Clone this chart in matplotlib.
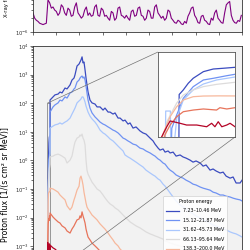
import numpy as np
import matplotlib
matplotlib.use("Agg")
import matplotlib.pyplot as plt
from matplotlib.ticker import LogLocator, NullFormatter
from mpl_toolkits.axes_grid1.inset_locator import mark_inset

# ---------------- data ----------------
# time in hours from start of window (9 days)
t_hours = [17.6, 20.7, 22.7, 25.9, 27.9, 30.0, 33.1, 35.2, 38.3, 40.3,
           42.4, 43.4, 45.5, 47.6, 48.6, 49.6, 50.7, 51.7, 52.7, 53.8,
           54.8, 55.8, 56.9, 58.9, 61.0, 64.1, 66.2, 69.3, 72.4, 74.4,
           77.6, 79.6, 82.7, 84.8, 87.9, 90.0, 93.1, 95.1, 98.2, 100.3,
           103.4, 106.5, 110.6, 113.7, 116.8, 121.0, 124.1, 126.1, 129.3, 131.3,
           134.4, 136.5, 139.6, 141.7, 144.8, 147.9, 152.0, 155.1, 158.2, 162.3,
           165.4, 168.5, 172.7, 175.8, 178.9, 183.0, 186.1, 189.2, 193.4, 196.5,
           199.6, 203.7, 206.8, 209.9, 214.0, 216.1]

# log10 proton flux per channel
p1_log = [2.11, 2.22, 2.29, 2.32, 2.39, 2.36, 2.53, 2.50, 2.64, 2.81,
          2.88, 2.99, 3.30, 3.37, 3.44, 3.51, 3.62, 3.41, 3.44, 3.16,
          2.88, 2.64, 2.39, 2.11, 2.01, 1.97, 1.87, 1.87, 1.76, 1.83,
          1.69, 1.69, 1.62, 1.66, 1.48, 1.48, 1.38, 1.41, 1.27, 1.31,
          1.13, 1.17, 1.03, 0.96, 0.92, 0.78, 0.68, 0.57, 0.43, 0.36,
          0.40, 0.29, 0.33, 0.26, 0.29, 0.15, 0.19, 0.12, 0.08, 0.01,
          -0.06, -0.02, -0.09, -0.20, -0.16, -0.34, -0.30, -0.37, -0.44, -0.41,
          -0.55, -0.62, -0.58, -0.79, -0.79, -0.69]
p2_log = [1.69, 1.87, 1.94, 2.01, 2.11, 2.08, 2.22, 2.18, 2.36, 2.39,
          2.50, 2.53, 2.74, 2.81, 2.88, 2.92, 2.95, 2.88, 2.92, 2.81,
          2.60, 2.36, 2.11, 1.83, 1.66, 1.52, 1.45, 1.34, 1.27, 1.24,
          1.17, 1.13, 1.06, 1.03, 0.96, 0.89, 0.78, 0.75, 0.68, 0.64,
          0.57, 0.54, 0.43, 0.40, 0.33, 0.26, 0.19, 0.15, 0.05, 0.01,
          -0.09, -0.13, -0.27, -0.34, -0.41, -0.51, -0.58, -0.62, -0.69, -0.76,
          -0.83, -0.86, -0.93, -0.97, -1.00, -1.04, -1.11, -1.14, -1.21, -1.21,
          -1.25, -1.28, -1.32, -1.35, -1.38, -1.42]
p3_log = [1.13, 1.20, 1.24, 1.27, 1.31, 1.27, 1.34, 1.38, 1.48, 1.62,
          1.76, 1.83, 2.01, 2.08, 2.11, 2.15, 2.22, 2.22, 2.15, 2.04,
          1.90, 1.80, 1.69, 1.55, 1.45, 1.34, 1.24, 1.06, 0.96, 0.92,
          0.82, 0.75, 0.68, 0.61, 0.50, 0.43, 0.33, 0.19, 0.12, 0.08,
          0.01, -0.06, -0.16, -0.23, -0.34, -0.44, -0.51, -0.55, -0.65, -0.69,
          -0.83, -0.90, -1.04, -1.14, -1.28, -1.42, -1.56, -1.63, -1.70, -1.80,
          -1.87, -1.94, -2.01, -2.08, -2.12, -2.19, -2.26, -2.29, -2.36, -2.40,
          -2.43, -2.50, -2.54, -2.57, -2.64, -2.68]
p4_log = [0.12, 0.15, 0.19, 0.22, 0.19, 0.15, 0.08, -0.09, 0.01, 0.15,
          0.50, 0.64, 0.78, 0.82, 0.89, 0.85, 0.92, 0.78, 0.71, 0.54,
          0.01, -0.34, -0.48, -0.62, -0.76, -0.90, -1.00, -1.07, -1.21, -1.31,
          -1.45, -1.52, -1.59, -1.66, -1.73, -1.80, -1.91, -1.98, -2.08, -2.15,
          -2.22, -2.29, -2.36, -2.43, -2.50, -2.57, -2.61, -2.64, -2.68, -2.71,
          -2.75, -2.82, -2.85, -2.89, -2.92, -2.96, -2.99, -3.03, -3.06, -3.10,
          -3.13, -3.17, -3.20, -3.24, -3.24, -3.27, -3.31, -3.34, -3.38, -3.38,
          -3.41, -3.45, -3.45, -3.48, -3.52, -3.52]
p5_log = [-0.97, -1.00, -1.04, -1.11, -1.21, -1.28, -1.38, -1.59, -1.73, -1.63,
          -1.38, -1.28, -1.04, -0.90, -0.62, -0.55, -0.69, -0.86, -1.11, -1.31,
          -1.49, -1.63, -1.70, -1.80, -1.91, -2.01, -2.08, -2.22, -2.33, -2.40,
          -2.54, -2.64, -2.78, -2.89, -2.99, -3.10, -3.20, -3.27, -3.38, -3.45,
          -3.52, -3.59, -3.69, -3.76, -3.83, -3.90, -3.97, -4.01, -4.08, -4.11,
          -4.18, -4.22, -4.29, -4.32, -4.36, -4.43, -4.46, -4.50, -4.53, -4.60,
          -4.64, -4.67, -4.71, -4.74, -4.78, -4.81, -4.85, -4.88, -4.92, -4.95,
          -4.95, -4.99, -5.02, -5.02, -5.06, -5.06]
p6_log = [-1.84, -1.98, -2.05, -2.15, -2.19, -2.29, -2.36, -2.47, -2.54, -2.40,
          -2.29, -2.22, -2.08, -2.05, -1.94, -2.01, -1.80, -1.94, -2.05, -2.19,
          -2.40, -2.54, -2.68, -2.78, -2.89, -2.99, -3.06, -3.17, -3.27, -3.34,
          -3.45, -3.52, -3.62, -3.69, -3.76, -3.83, -3.94, -4.01, -4.11, -4.18,
          -4.25, -4.32, -4.43, -4.50, -4.57, -4.64, -4.71, -4.74, -4.81, -4.85,
          -4.92, -4.95, -5.02, -5.06, -5.09, -5.16, -5.20, -5.23, -5.27, -5.34,
          -5.37, -5.41, -5.44, -5.48, -5.51, -5.55, -5.58, -5.62, -5.65, -5.69,
          -5.69, -5.72, -5.76, -5.76, -5.79, -5.79]
p7_log = [-2.96, -3.06, -3.10, -3.20, -3.27, -3.34, -3.41, -3.48, -3.55, -3.48,
          -3.41, -3.38, -3.31, -3.27, -3.20, -3.24, -3.17, -3.24, -3.34, -3.45,
          -3.59, -3.73, -3.83, -3.94, -4.04, -4.15, -4.22, -4.32, -4.43, -4.50,
          -4.60, -4.67, -4.78, -4.85, -4.92, -4.99, -5.09, -5.16, -5.27, -5.34,
          -5.41, -5.48, -5.58, -5.65, -5.72, -5.79, -5.86, -5.90, -5.97, -6.00,
          -6.03, -6.06, -6.09, -6.12, -6.15, -6.18, -6.20, -6.22, -6.24, -6.26,
          -6.28, -6.30, -6.32, -6.34, -6.36, -6.38, -6.40, -6.42, -6.44, -6.46,
          -6.48, -6.50, -6.52, -6.54, -6.56, -6.58]

# onset detail (shown in the inset): time [h], flux
on1_t = [15.56, 15.57, 15.72, 15.90, 16.08, 16.45, 16.81, 17.17, 17.60]
on1_f = [5e-5, 0.1, 0.21, 0.62, 1.4, 4.1, 6.3, 7.1, 8.3]
on2_t = [15.29, 15.30, 15.48, 15.60, 15.72, 16.08, 16.45, 16.81, 17.30, 17.60]
on2_f = [5e-5, 4.1e-4, 3.6e-3, 0.0138, 0.054, 0.356, 1.06, 1.39, 2.12, 2.67]
on3_t = [15.07, 15.08, 15.25, 15.26, 15.40, 15.48, 15.72, 16.08, 16.45, 16.93, 17.60]
on3_f = [5e-5, 6.8e-3, 6.8e-3, 5e-5, 5e-5, 2.0e-3, 0.041, 0.21, 0.55, 1.06, 1.72]
on4_t = [15.03, 15.12, 15.48, 15.72, 16.08, 16.45, 16.93, 17.60]
on4_f = [5e-5, 1.2e-3, 0.025, 0.092, 0.21, 0.36, 0.52, 0.73]
on5_t = [14.95, 14.99, 15.24, 15.48, 15.72, 16.08, 16.45, 17.00, 17.60]
on5_f = [5e-5, 1.8e-4, 2.7e-3, 0.0138, 0.041, 0.070, 0.078, 0.080, 0.079]
on6_t = [15.03, 15.05, 15.24, 15.48, 15.72, 16.08, 16.45, 16.93, 17.05, 17.30, 17.60]
on6_f = [5e-5, 1.4e-4, 7.0e-4, 2.7e-3, 6.1e-3, 8.0e-3, 9.5e-3, 8.0e-3, 0.0117, 9.5e-3, 0.0117]
on7_t = [14.92, 14.93, 15.12, 15.24, 15.36, 15.60, 15.84, 16.21, 16.57, 16.75,
         16.87, 16.99, 17.12, 17.30, 17.42, 17.60]
on7_f = [5e-5, 1.0e-4, 5.3e-4, 1.35e-3, 1.2e-3, 9.3e-4, 7.0e-4, 7.0e-4, 5.3e-4, 9.3e-4,
         5.3e-4, 1.2e-3, 5.3e-4, 7.0e-4, 9.3e-4, 5.3e-4]

energy_labels = ["7.23–10.46 MeV", "15.12–21.87 MeV", "31.62–45.73 MeV",
                 "66.13–95.64 MeV", "138.3–200.0 MeV", "289.2–418.3 MeV",
                 "604.7–874.6 MeV"]

# X-ray flux, units of 1e-6 W/m^2, regular sampling over the window
xray_t_hours = np.linspace(0, 215.3, 126)
xray_flux_e6 = [2.6, 2.0, 1.8, 1.7, 1.55, 1.5, 1.45, 1.5, 1.55, 5.0,
                4.3, 3.3, 3.5, 3.0, 2.8, 2.3, 2.6, 3.9, 3.5, 2.6,
                2.3, 3.3, 3.0, 2.2, 2.3, 3.5, 4.3, 2.6, 2.3, 2.0,
                2.2, 3.0, 3.5, 2.3, 2.6, 2.2, 2.3, 3.5, 3.9, 2.3,
                2.2, 3.3, 3.0, 2.2, 2.3, 2.0, 1.8, 2.8, 2.6, 1.8,
                2.0, 3.3, 3.5, 2.3, 2.2, 2.0, 2.3, 2.0, 1.8, 2.8,
                3.0, 2.2, 2.3, 3.3, 3.5, 2.3, 2.2, 1.8, 2.0, 3.0,
                2.8, 2.0, 2.0, 3.5, 3.9, 2.6, 2.3, 2.0, 2.2, 1.8,
                2.0, 3.0, 2.8, 2.0, 1.8, 1.6, 1.55, 1.8, 1.7, 1.5,
                1.45, 1.7, 1.55, 2.2, 2.6, 3.3, 3.5, 2.3, 2.0, 1.6,
                1.55, 2.2, 2.3, 1.8, 1.7, 1.5, 1.45, 2.0, 1.8, 2.6,
                3.0, 2.0, 1.8, 1.6, 1.55, 2.6, 3.9, 4.3, 4.6, 2.3,
                1.8, 1.6, 1.55, 1.78, 1.7, 2.3]

# ---------------- figure ----------------
W = H = 250.0
fig = plt.figure(figsize=(2.5, 2.5), dpi=100)
bg = "#f2f2f2"
fs = 3.8

ax_x = fig.add_axes([33 / W, (H - 32) / H, 209 / W, 76 / H])
ax_p = fig.add_axes([33 / W, (H - 324) / H, 209 / W, 278 / H])

for ax in (ax_x, ax_p):
    ax.set_facecolor(bg)
    ax.set_yscale("log")
    ax.yaxis.set_major_locator(LogLocator(base=10, numticks=30))
    ax.yaxis.set_minor_locator(LogLocator(base=10, subs=np.arange(2, 10), numticks=30))
    ax.yaxis.set_minor_formatter(NullFormatter())
    ax.set_xlim(0, 216)
    ax.set_xticks(np.arange(0, 217, 24))
    ax.set_xticklabels([])
    ax.tick_params(labelsize=fs, length=2, width=0.5, pad=1, colors="#333333")
    ax.tick_params(which="minor", length=1.2, width=0.4)
    for s in ax.spines.values():
        s.set_linewidth(0.6)
        s.set_color("#333333")

# X-ray panel
ax_x.plot(xray_t_hours, np.array(xray_flux_e6) * 1e-6, color="purple", lw=0.8)
ax_x.set_ylim(1e-6, 10 ** (-6 + 76 / 46))
ax_x.set_ylabel("X-ray flux [W/m²]", fontsize=fs, labelpad=4)

# proton panel
colors = plt.cm.coolwarm(np.linspace(0, 1, 7))
logs = [p1_log, p2_log, p3_log, p4_log, p5_log, p6_log, p7_log]
ons = [(on1_t, on1_f), (on2_t, on2_f), (on3_t, on3_f), (on4_t, on4_f),
       (on5_t, on5_f), (on6_t, on6_f), (on7_t, on7_f)]
for lg, (ot, of), c, lab in zip(logs, ons, colors, energy_labels):
    x = np.concatenate([ot, t_hours])
    y = np.concatenate([of, 10.0 ** np.array(lg)])
    ax_p.plot(x, y, color=c, lw=0.9, label=lab)

ax_p.set_ylim(10 ** (4 - 278 / 28.6), 1e4)
ax_p.set_ylabel("Proton flux [1/(s cm² sr MeV)]", fontsize=5.6, labelpad=3.5)

leg = ax_p.legend(loc="upper right", bbox_to_anchor=(0.935, (324 - 195) / 278),
                  fontsize=3.4, title="Proton energy", title_fontsize=3.4,
                  handlelength=2.8, handletextpad=0.9, labelspacing=0.95,
                  borderpad=0.6, borderaxespad=0.2, framealpha=0.85)
leg.get_frame().set_linewidth(0.5)

# inset
axins = fig.add_axes([158 / W, (H - 137) / H, 77 / W, 85 / H])
for (ot, of), c in zip(ons, colors):
    axins.plot(ot, of, color=c, lw=0.9)
axins.set_yscale("log")
axins.set_xlim(14.8, 17.6)
axins.set_ylim(1e-4, 1e2)
axins.set_xticks([])
axins.set_yticks([])
axins.minorticks_off()
axins.set_facecolor("white")
for s in axins.spines.values():
    s.set_linewidth(0.6)
    s.set_color("#555555")
mark_inset(ax_p, axins, loc1=2, loc2=4, fc="none", ec="0.45", lw=0.5)

fig.savefig("out.png", dpi=100)
